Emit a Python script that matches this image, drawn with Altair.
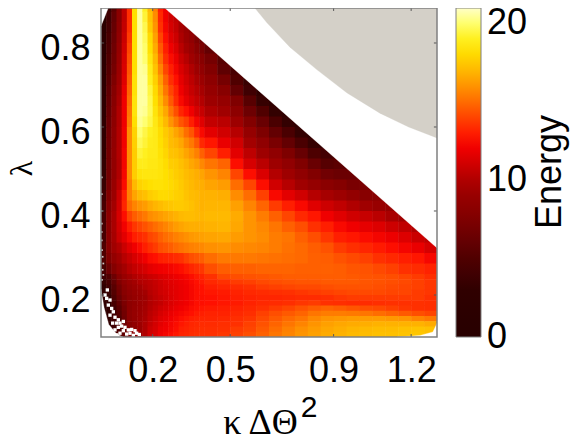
import altair as alt
import pandas as pd

# cell edges of the map
kappa_edges = [0, .02, .04, .06, .08, .10, .12, .14, .16, .18, .20, .22, .24, .26, .28, .30, .32, .34, .36, .38, .40,
               .45, .50, .55, .60, .65, .70, .75, .80, .85, .90, .95, 1.0, 1.05, 1.10, 1.15, 1.20, 1.25, 1.30]
lambda_edges = [.9, .875, .85, .825, .8, .775, .75, .725, .7, .675, .65, .625, .6, .575, .55, .525, .5, .475, .45,
                .425, .4, .375, .35, .325, .3, .275, .25, .2375, .225, .2125, .2, .1875, .175, .1625, .15, .1375,
                .125, .1125, .1]

# energy, one list per kappa column, top to bottom (every list ends on the lowest row)
energy_columns = [
 [1,1,1.2,1.4,1.6,1.8,2,2.2,2.4,2.4,2.5,2.6,2.8,3,3,3.2,3.2,3.5,4,4.5,4.5,4.5,4.5,5,5,4.5,4,3.5,3,3,3,3,2,2,2,2,2,2],
 [3.5,4,4.2,4.5,4.7,5,5.2,5.5,5.8,6,6.2,6.4,6.6,6.7,6.8,6.8,6.8,7,7.5,8,8.2,8.2,8.2,8,7.5,6.5,5,4.5,4,3.5,3,3,3,3,3,3,3,3],
 [5.5,6,6.2,6.4,6.6,6.8,7,7.4,7.8,8,8.2,8.3,8.5,8.6,8.7,8.7,8.7,9,9.2,9.6,9.8,9.8,9.7,9.5,8.7,7.8,6.5,6,5.5,5.2,4.8,4.5,4.2,4,4,4,4,4],
 [8,8.2,8.4,8.6,8.8,9,9.2,9.4,9.6,9.8,10,10,10.1,10.1,10.1,10,10,10.3,10.8,11,11.2,11,10.8,10,9.5,8.8,8,7.5,7,6.8,6.4,6,5.6,5.3,5,5,5,5],
 [10.5,10.5,10.6,10.8,11,11.2,11.3,11.5,11.8,12,12,12,12.1,12.1,12.2,12.2,12.3,12.5,13,13.2,12.6,12.1,11.6,10.8,10.2,9.6,9,8.6,8.2,8,7.6,7.3,7,6.8,6.6,6.5,6.2,6],
 [13.5,13.5,13.6,13.8,14,14.2,14.4,14.6,14.8,15,15.2,15.4,15.8,15.8,15.8,15.8,15.8,15.5,15.5,15,14,13,12.4,11.5,10.7,10.2,9.6,9.2,8.9,8.6,8.4,8.3,8.3,8.4,8.3,8,7.5,7.2],
 [18.2,18.2,18.2,18.2,18.2,18.2,18.2,18.3,18.3,18.4,18.4,18.2,17.8,17.7,17.6,17.6,17.6,17,16.4,15.6,14.6,13.7,13,12,11.2,10.6,10,9.6,9.3,9,8.8,8.7,8.8,8.9,8.8,8.6,8.4,8.2],
 [20.3,20.3,20.3,20.3,20.3,20.3,20.3,20.3,20.3,20.3,20.3,20.2,20,19.6,19.2,18.8,18.4,17.8,17,16,15,14,13.3,12.5,11.6,10.9,10.3,10,9.6,9.3,9.1,9.1,9.2,9.3,9.4,9.3,9.2,9.2],
 [19,19.2,19.5,19.7,19.9,20,20.2,20.3,20.3,20.3,20.2,20,19.4,19.2,19,18.8,18.5,18,17.2,16.2,15.3,14.3,13.6,13,12,11.2,10.5,10.2,10,9.6,9.4,9.5,9.6,9.7,9.8,9.9,9.9,10],
 [17,17.3,17.5,18,18.2,18.5,18.8,19,19.3,19.5,19.6,19.4,19,18.8,18.7,18.6,18.5,18.2,17.6,16.6,15.8,14.7,14,13.5,12.5,11.6,10.8,10.4,10.3,10.2,10,10,10.1,10.3,10.4,10.6,10.8,10.9],
 [15.5,15.8,16,16.3,16.6,17,17.3,17.7,18,18.2,18.4,18.6,18.7,18.7,18.7,18.6,18.5,18.3,17.8,16.9,16,15,14.2,13.8,12.7,11.8,11,10.7,10.6,10.5,10.4,10.3,10.5,10.7,10.9,11.1,11.2,11.3],
 [13,13.3,13.6,14,14.5,15,15.6,16.2,16.6,17,17.4,17.8,18.1,18.2,18.3,18.4,18.4,18.3,18,17.1,16.2,15.3,14.7,14.2,13,12,11.3,11,10.9,10.9,10.7,10.6,10.9,11.2,11.4,11.6,11.8,11.9],
 [12,12,12.2,12.6,13,13.5,14,14.7,15.2,15.8,16.5,17,17.5,17.7,17.9,18.1,18.2,18.2,18,17.3,16.4,15.6,15,14.4,13.1,12.1,11.5,11.3,11.2,11.1,11,11,11.2,11.5,11.7,11.9,12,12.2],
 [11,11.2,11.5,12,12.5,13,13.5,14,14.5,15.2,16,17,17.1,17.3,17.6,17.9,18,17.9,17.4,16.6,15.9,15.2,14.6,13.2,12.2,11.7,11.5,11.4,11.4,11.3,11.3,11.5,11.8,12,12.2,12.3,12.5],
 [10.5,10.6,10.9,11.3,11.8,12.2,12.7,13.1,13.4,14.2,15.2,16.4,16.9,17.2,17.5,17.6,17.8,17.7,17.5,16.8,16.2,15.5,14.9,13.4,12.4,11.9,11.7,11.6,11.6,11.6,11.6,11.8,12.1,12.3,12.5,12.6,12.8],
 [9.6,9.7,9.9,10.3,10.8,11.3,11.7,12,12.4,13.2,14.4,15.9,16.5,16.9,17.2,17.4,17.5,17.6,17.5,17,16.4,15.7,15.1,13.6,12.6,12.1,11.9,11.8,11.8,11.8,11.8,12,12.3,12.6,12.8,13,13.1],
 [9,9.2,9.6,10.2,10.7,11,11.3,11.7,12.7,13.9,15,15.8,16.4,16.9,17.1,17.2,17.3,17.4,17.1,16.6,15.9,15.3,13.9,12.9,12.3,12.1,12,12,12,12,12.2,12.5,12.8,13,13.1,13.2],
 [8.2,8.6,9,9.5,10,10.4,10.7,11.1,12,13,14.4,15.3,16,16.5,16.9,17,17.1,17.2,17.1,16.7,16.1,15.5,14.2,13.2,12.6,12.4,12.3,12.3,12.3,12.3,12.5,12.7,13,13.2,13.3,13.4],
 [7.4,8,8.7,9.3,9.8,10.2,10.6,11.2,12.2,13.3,14.5,15.5,16.2,16.7,16.8,17,17,17,16.7,16.2,15.6,14.4,13.5,12.9,12.7,12.6,12.6,12.6,12.6,12.7,12.9,13.1,13.3,13.4,13.5],
 [6.6,7.2,8,8.6,9.2,9.7,10.1,10.7,11.5,12.4,13.3,14.7,15.7,16.4,16.7,16.8,16.8,16.9,16.7,16.3,15.7,14.6,13.7,13.1,12.9,12.7,12.7,12.6,12.6,12.8,13,13.2,13.4,13.5,13.6],
 [6,7,7.6,8.3,8.8,9.3,9.9,10.6,11.6,12.8,14,15.2,16,16.4,16.8,16.9,17,16.8,16.4,15.9,15,14.2,13.6,13.3,13,12.8,12.7,12.7,12.9,13.1,13.2,13.4,13.5,13.6],
 [5.5,5.8,7,8,8.8,9.5,10.3,11,11.8,13,14.8,15.6,16.2,16.7,16.9,17,16.9,16.5,16,15.3,14.6,14.1,13.6,13.2,12.9,12.8,12.8,13,13.1,13.3,13.5,13.6,13.7],
 [4.5,5,6,7.5,8.3,9.3,10.2,11,11.6,12.6,14,15,15.8,16.3,16.6,16.5,16.2,15.8,15.3,14.7,14.2,13.8,13.4,13.1,13,12.9,13.1,13.3,13.5,13.6,13.8,13.9],
 [3.5,4,5.4,6.5,7.7,8.8,9.6,10.4,11.2,12.6,14,15,15.6,16,16,16,15.7,15.3,14.7,14.3,13.9,13.6,13.3,13.1,13.1,13.3,13.5,13.7,13.9,14,14.2],
 [3,3.4,5,6.3,7.4,8.5,9.4,10.3,11.3,12.6,13.9,14.8,15.4,15.7,15.8,15.6,15.2,14.8,14.4,14.1,13.8,13.4,13.2,13.3,13.6,13.9,14.1,14.3,14.5,14.7],
 [2.8,3.2,4.6,6,7.2,8.5,9.4,10.1,11,12.4,13.8,14.7,15.2,15.4,15.4,15.1,14.8,14.5,14.2,13.9,13.5,13.2,13.4,13.8,14.2,14.5,14.8,15,15.2],
 [2.6,3.2,4.6,6,7.4,8.6,9.4,10.2,11.6,13,14,14.7,15.2,15.1,15,14.8,14.6,14.3,14,13.6,13.3,13.5,14,14.5,14.9,15.2,15.5,15.6],
 [2.6,3.2,4.6,6.2,7.5,8.5,9.5,11,12.4,13.3,14.2,14.7,14.9,14.9,14.7,14.6,14.4,14.1,13.7,13.4,13.7,14.3,14.8,15.2,15.6,15.9,16],
 [2.8,3.4,4.8,6.3,7.6,8.8,10.2,11.5,12.8,13.6,14.2,14.6,14.7,14.7,14.6,14.4,14.1,13.8,13.4,13.8,14.6,15.2,15.7,16,16.2,16.3],
 [3.2,4.2,5.3,6.7,8.2,9.7,10.9,12,13,13.7,14.3,14.6,14.7,14.6,14.5,14.2,13.9,13.5,13.6,14.8,15.4,16,16.3,16.5,16.6],
 [5,5.6,6.4,7.8,9.3,10.5,11.5,12.4,13,13.8,14.3,14.6,14.6,14.5,14.3,14,13.7,13.5,14.6,15.4,16.1,16.5,16.7,16.8],
 [5.8,6.4,7.2,8.7,10,11,12,12.8,13.5,14.1,14.4,14.5,14.5,14.3,14.1,13.8,13.4,14.4,15.3,16.2,16.6,16.9,17],
 [7.2,8,9.5,10.7,11.7,12.5,13.2,13.9,14.3,14.4,14.4,14.3,14.1,13.8,13.4,14.2,15.2,16.2,16.7,17,17.1],
 [8,9,10.3,11.4,12.2,12.9,13.6,14.1,14.3,14.3,14.2,14.1,13.8,13.5,14.1,15,16.2,16.8,17.1,17.2],
 [8.8,9.8,10.9,11.9,12.6,13.3,13.9,14.2,14.2,14.1,14,13.8,13.6,13.9,14.8,16.1,16.8,17.1,17.2],
 [9.5,10.5,11.4,12.2,13,13.6,14,14.1,14,14,13.8,13.6,13.7,14.5,16,16.8,17.2,17.3],
 [10,10.8,11.8,12.8,13.4,13.8,13.9,13.9,13.8,13.8,13.6,13.6,14.2,15.6,16.8,17.3,17.4],
 [10.5,11.2,12.3,13.1,13.5,13.7,13.7,13.7,13.6,13.5,13.5,14,15.3,16.6,17.2,17.2],
]

# colour bar
ENERGY_TOP = 20.95
energy_stops = [-0.02, 3, 5, 7.5, 9.5, 10.5, 11.5, 12, 12.7, 13.6, 14.7, 15.5, 16.3, 17.2, 18.2, 19, 20, 20.3, ENERGY_TOP]
energy_colors = ["#000000", "#300000", "#500000", "#800000", "#a00000", "#c00000", "#e00000", "#f00000", "#ff1000",
                 "#ff3000", "#ff6000", "#ff8000", "#ffa000", "#ffc000", "#ffe000", "#fff020", "#ffff70", "#ffffa0",
                 "#ffffc8"]
energy_ticks = [0, 10, 20]

kappa_ticks = [0.2, 0.5, 0.9, 1.2]
lambda_ticks = [0.2, 0.4, 0.6, 0.8]

# edges of the regions without a value
diagonal_kappa = [0.2205, 1.3]
diagonal_lambda = [0.8976, 0.312]
corner_kappa = [0, 0.039]
corner_lambda = [0.84, 0.9]
low_left_kappa = [0, 0.012, 0.03, 0.06, 0.085]
low_left_lambda = [0.214, 0.17, 0.13, 0.108, 0.1]
low_right_kappa = [1.145, 1.234, 1.284, 1.3]
low_right_lambda = [0.1, 0.1036, 0.112, 0.133]
grey_kappa = [0.576, 0.642, 0.731, 0.836, 0.952, 1.079, 1.19, 1.3]
grey_lambda = [0.898, 0.848, 0.790, 0.736, 0.681, 0.633, 0.600, 0.574]

# missing cells scattered along the low-left edge
speck_kappa = [.0245, .0155, .0348, .0284, .0413, .0219, .0477, .0348, .0541, .0670, .0606, .0735, .0864, .0800, .0928,
               .0670, .1057, .0864, .1186, .1315, .1122, .0993, .1380, .1483, .1251, .0451, .0541, .0735, .0606]
speck_lambda = [.212, .200, .188, .176, .168, .192, .160, .152, .147, .141, .133, .133, .137, .126, .123,
                .123, .117, .115, .118, .115, .109, .107, .109, .106, .104, .133, .117, .109, .105]
edge_speck_kappa = [.0039, .0064, .0090, .0064, .0090, .0039, .0030, .0030, .0030, .0030, .0030, .0030]
edge_speck_lambda = [.307, .291, .275, .260, .248, .236, .48, .44, .40, .37, .35, .33]

KMIN, KMAX = 0, 1.3
LMIN, LMAX = 0.1, 0.8833

KAPPA_TITLE = "κ ΔΘ"
LAMBDA_TITLE = "λ"
PLOT_W, PLOT_H = 336, 329

records = []
n_rows = len(lambda_edges) - 1
for c, col in enumerate(energy_columns):
    assert len(col) <= n_rows
    first = n_rows - len(col)
    for i, v in enumerate(col):
        r = first + i
        # a hair of overlap keeps the background from showing through between neighbouring cells
        records.append(dict(k0=kappa_edges[c], k1=kappa_edges[c + 1] + 0.002,
                            l0=lambda_edges[r + 1] - 0.0012, l1=lambda_edges[r], e=v))
cells = pd.DataFrame(records)

xs = alt.Scale(domain=[KMIN, KMAX], nice=False, zero=False)
ys = alt.Scale(domain=[LMIN, LMAX], nice=False, zero=False)
cs = alt.Scale(domain=energy_stops, range=energy_colors, clamp=True)

SANS = "Liberation Sans"
SERIF = "Liberation Serif"


def X(f):
    return alt.X(f, scale=xs, title=KAPPA_TITLE)


def Y(f):
    return alt.Y(f, scale=ys, title=LAMBDA_TITLE)


heat = alt.Chart(cells).mark_rect(clip=True).encode(
    x=alt.X("k0:Q", scale=xs, title=KAPPA_TITLE,
            axis=alt.Axis(values=kappa_ticks, format=".1f", ticks=False, domain=False, grid=False,
                          labelFont=SANS, labelFontSize=36, labelColor="black", labelPadding=16,
                          labelFlush=False, labelOverlap=False,
                          titleFont=SERIF, titleFontSize=36, titleFontWeight="normal", titleColor="black",
                          titleX=159, titleY=96, titleBaseline="alphabetic", titleAlign="center")),
    x2="k1:Q",
    y=alt.Y("l0:Q", scale=ys, title=LAMBDA_TITLE,
            axis=alt.Axis(values=lambda_ticks, format=".1f", ticks=False, domain=False, grid=False,
                          labelFont=SANS, labelFontSize=36, labelColor="black", labelPadding=11, labelOffset=6,
                          labelFlush=False, labelOverlap=False,
                          titleFont=SERIF, titleFontSize=32, titleFontWeight="normal", titleColor="black",
                          titleX=-70, titleY=160, titleAlign="center", titleBaseline="alphabetic")),
    y2="l1:Q",
    color=alt.Color("e:Q", scale=cs, legend=alt.Legend(
        title=None, orient="none", legendX=355, legendY=0, direction="vertical", type="gradient",
        gradientLength=PLOT_H, gradientThickness=25, gradientStrokeColor="#808080", gradientStrokeWidth=1,
        values=energy_ticks, labelFont=SANS, labelFontSize=36, labelColor="black", labelOffset=6,
        labelOverlap=False, labelBaseline="middle")),
)


def region(kappa, lam, base, fill):
    df = pd.DataFrame({"k": kappa, "l": lam, "b": [base] * len(kappa)})
    return alt.Chart(df).mark_area(clip=True, fill=fill, stroke=fill, strokeWidth=0.3).encode(
        x=X("k:Q"), y=Y("l:Q"), y2="b:Q")


diagonal = region(diagonal_kappa, diagonal_lambda, 0.9, "white")
corner = region(corner_kappa, corner_lambda, 0.9, "white")
low_left = region(low_left_kappa, low_left_lambda, 0.1, "white")
low_right = region(low_right_kappa, low_right_lambda, 0.1, "white")
grey = region(grey_kappa, grey_lambda, 0.9, "#d4d0c8")

specks = alt.Chart(pd.DataFrame({"k": speck_kappa, "l": speck_lambda})).mark_square(
    clip=True, color="white", size=11, opacity=1).encode(x=X("k:Q"), y=Y("l:Q"))
edge_specks = alt.Chart(pd.DataFrame({"k": edge_speck_kappa, "l": edge_speck_lambda})).mark_square(
    clip=True, color="#c8c8c8", size=3, opacity=1).encode(x=X("k:Q"), y=Y("l:Q"))

tick_color = "#555555"


def v_ticks(y0, y1):
    df = pd.DataFrame({"k": kappa_ticks, "a": [y0] * 4, "b": [y1] * 4})
    return alt.Chart(df).mark_rule(color=tick_color, strokeWidth=1).encode(x=X("k:Q"), y=Y("a:Q"), y2="b:Q")


def h_ticks(x0, x1):
    df = pd.DataFrame({"l": lambda_ticks, "a": [x0] * 4, "b": [x1] * 4})
    return alt.Chart(df).mark_rule(color=tick_color, strokeWidth=1).encode(y=Y("l:Q"), x=X("a:Q"), x2="b:Q")


frame = alt.Chart(pd.DataFrame({"a": [KMIN], "b": [KMAX], "c": [LMIN], "d": [LMAX]})).mark_rect(
    fillOpacity=0, stroke="#808080", strokeWidth=1.5).encode(x=X("a:Q"), x2="b:Q", y=Y("c:Q"), y2="d:Q")

energy_title = alt.Chart(pd.DataFrame({"t": ["Energy"]})).mark_text(
    font=SANS, fontSize=36, angle=270, baseline="alphabetic", align="center", color="black", clip=False).encode(
    x=alt.value(460), y=alt.value(164), text="t:N")

square = alt.Chart(pd.DataFrame({"t": ["2"]})).mark_text(
    font=SANS, fontSize=30, baseline="alphabetic", align="center", color="black", clip=False).encode(
    x=alt.value(208), y=alt.value(409), text="t:N")

bar_ticks = []
for t in energy_ticks[1:]:
    py = PLOT_H * (1 - t / ENERGY_TOP)
    for a, b in ((355, 358), (377, 380)):
        bar_ticks.append(alt.Chart(pd.DataFrame({"t": [t]})).mark_rule(color="#333333", strokeWidth=1, clip=False).encode(
            x=alt.value(a), x2=alt.value(b), y=alt.value(py)))

chart = alt.layer(
    heat, diagonal, corner, low_left, low_right, specks, edge_specks, grey,
    v_ticks(0.1, 0.107), v_ticks(0.8833, 0.8763), h_ticks(0, 0.012), h_ticks(1.3, 1.288),
    frame, energy_title, square, *bar_ticks,
).properties(
    width=PLOT_W, height=PLOT_H,
    padding={"left": 93, "top": 0, "right": 133, "bottom": 98},
    autosize=alt.AutoSizeParams(type="none"),
).configure_view(stroke=None)

chart.save("out.html", embed_options={"renderer": "svg", "actions": False})
